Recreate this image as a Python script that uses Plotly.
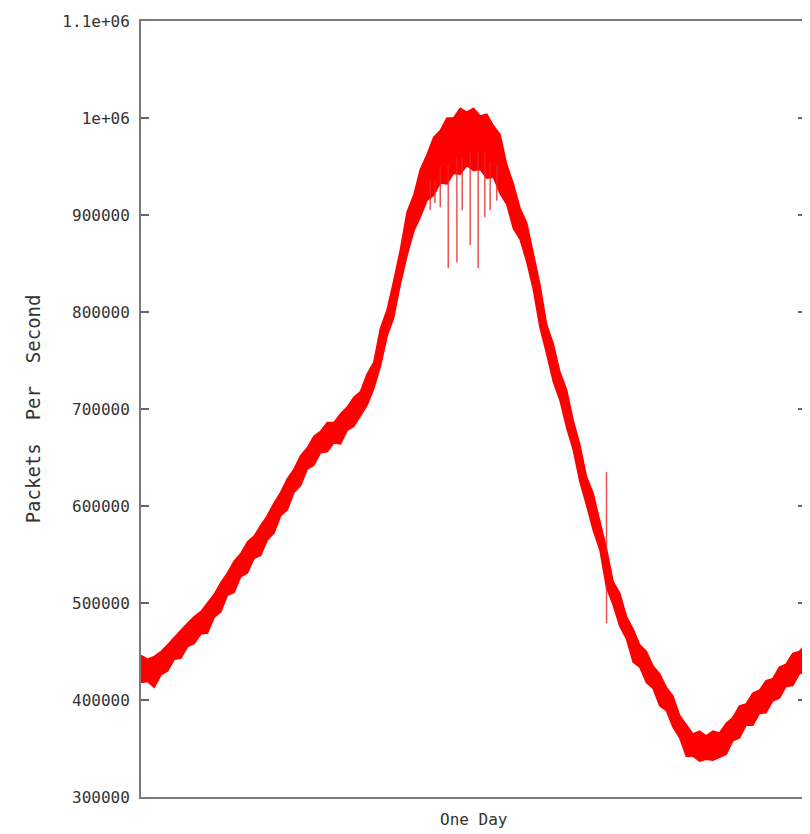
import plotly.graph_objects as go

# Sample positions across one day (index of reading)
sample_idx = list(range(101))

# Upper envelope of the packet-rate band (thousands of packets/s)
upper_k = [446, 442, 445, 450, 457, 465, 472, 479, 486, 491,
           500, 509, 521, 531, 543, 551, 563, 569, 580, 590,
           603, 614, 628, 638, 652, 660, 672, 677, 686, 686,
           695, 702, 712, 718, 736, 748, 783, 802, 832, 864,
           903, 920, 947, 962, 980, 987, 1000, 1000, 1010, 1006,
           1010, 1002, 1004, 992, 983, 952, 932, 907, 892, 860,
           828, 787, 767, 738, 720, 688, 663, 630, 613, 584,
           556, 522, 510, 486, 473, 457, 450, 435, 427, 413,
           404, 384, 374, 365, 368, 363, 368, 366, 376, 382,
           394, 396, 407, 410, 420, 422, 434, 437, 448, 450,
           458]

# Lower envelope of the band (thousands of packets/s)
lower_k = [418, 419, 413, 426, 430, 442, 443, 455, 458, 468,
           469, 485, 491, 508, 511, 527, 531, 546, 549, 565,
           572, 590, 596, 614, 621, 638, 642, 655, 656, 665,
           664, 678, 682, 693, 704, 721, 744, 775, 794, 829,
           858, 883, 898, 915, 920, 933, 932, 943, 942, 951,
           946, 947, 938, 939, 922, 911, 886, 875, 852, 823,
           784, 757, 728, 709, 681, 658, 625, 601, 575, 555,
           516, 498, 476, 463, 439, 434, 418, 412, 394, 389,
           372, 361, 342, 342, 337, 339, 338, 341, 344, 358,
           361, 374, 374, 386, 387, 399, 402, 414, 415, 427,
           430]

# Isolated outlier spikes: position, band value, spike extreme (thousands)
spike_pos = [43.5, 44.2, 45.0, 46.2, 47.5, 48.3, 49.5, 50.7, 51.7, 52.5, 53.5, 70.0, 70.0]
spike_base = [935, 935, 950, 950, 960, 960, 965, 965, 965, 955, 950, 552, 518]
spike_tip = [905, 912, 908, 845, 851, 905, 869, 845, 898, 905, 915, 635, 479]

y_ticks = [300000, 400000, 500000, 600000, 700000, 800000, 900000, 1000000, 1100000]
y_tick_text = ["300000", "400000", "500000", "600000", "700000", "800000",
               "900000", "1e+06", "1.1e+06"]

RED = "#ff0000"

fig = go.Figure()
fig.add_trace(go.Scatter(x=sample_idx, y=[v * 1000 for v in lower_k], mode="lines",
                         line=dict(color=RED, width=1.5), showlegend=False,
                         hoverinfo="skip"))
fig.add_trace(go.Scatter(x=sample_idx, y=[v * 1000 for v in upper_k], mode="lines",
                         line=dict(color=RED, width=1.5), fill="tonexty",
                         fillcolor=RED, showlegend=False, hoverinfo="skip"))

sx, sy = [], []
for p, b, t in zip(spike_pos, spike_base, spike_tip):
    sx += [p, p, None]
    sy += [b * 1000, t * 1000, None]
fig.add_trace(go.Scatter(x=sx, y=sy, mode="lines",
                         line=dict(color="rgba(230,40,40,0.8)", width=1.5),
                         showlegend=False, hoverinfo="skip"))

axis_col = "#7a7a7a"
fig.update_xaxes(range=[0, 100], showgrid=False, zeroline=False,
                 showline=True, linecolor=axis_col, linewidth=2, mirror=True,
                 showticklabels=False, ticks="")
fig.update_yaxes(range=[300000, 1100000], showgrid=False, zeroline=False,
                 showline=True, linecolor=axis_col, linewidth=2, mirror="ticks",
                 tickmode="array", tickvals=y_ticks, ticktext=y_tick_text,
                 ticks="inside", ticklen=8, tickwidth=2, tickcolor="#666666",
                 ticklabelstandoff=6,
                 tickfont=dict(family="DejaVu Sans Mono", size=16, color="#333333"))

# page body adds an 8px offset; plot area spans x 141..808, y 21..797 in the window
fig.add_annotation(text="Packets\u00a0 Per\u00a0 Second", xref="paper", yref="paper",
                   x=(33 - 141) / 667, y=0.5, textangle=-90, showarrow=False,
                   xanchor="center", yanchor="middle",
                   font=dict(family="DejaVu Sans Mono", size=19, color="#333333"))
fig.add_annotation(text="One Day", xref="paper", yref="paper",
                   x=0.5, y=(797 - 820) / 776, showarrow=False,
                   xanchor="center", yanchor="middle",
                   font=dict(family="DejaVu Sans Mono", size=16, color="#333333"))

fig.update_layout(width=802, height=826, plot_bgcolor="white", paper_bgcolor="white",
                  margin=dict(l=133, r=2, t=13, b=37))

fig.write_html("out.html")
